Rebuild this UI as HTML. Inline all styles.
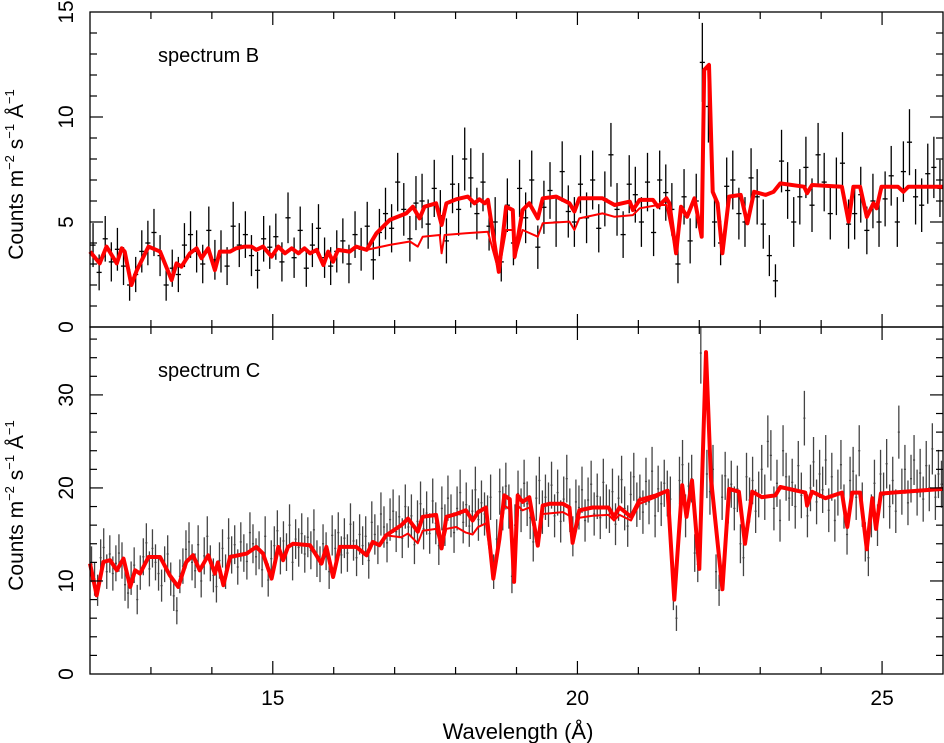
<!DOCTYPE html>
<html><head><meta charset="utf-8"><style>
html,body{margin:0;padding:0;background:#fff;}
svg{display:block;font-family:"Liberation Sans",sans-serif;}
</style></head><body>
<svg id="chart" width="944" height="743" xmlns="http://www.w3.org/2000/svg"></svg>
<script>
// ---- data ----
const topModelThickX=[12.0,12.16,12.27,12.44,12.52,12.57,12.68,12.77,12.96,13.15,13.34,13.42,13.5,13.64,13.75,13.83,13.94,14.05,14.13,14.3,14.4,14.54,14.65,14.73,14.84,14.98,15.09,15.2,15.31,15.42,15.52,15.61,15.72,15.83,15.91,15.99,16.07,16.26,16.37,16.54,16.7,16.92,17.19,17.3,17.41,17.49,17.68,17.77,17.85,18.01,18.2,18.31,18.39,18.48,18.53,18.71,18.83,18.94,18.97,19.1,19.21,19.35,19.43,19.65,19.87,19.95,20.03,20.41,20.61,20.86,20.91,21.02,21.24,21.32,21.46,21.51,21.62,21.7,21.8,21.92,22.04,22.08,22.16,22.22,22.3,22.38,22.49,22.68,22.79,22.9,23.09,23.22,23.33,23.72,23.77,23.85,24.34,24.45,24.53,24.64,24.75,24.86,24.91,24.99,25.26,25.35,25.43,26.0];
const topModelThickY=[3.59,3.03,3.83,3.03,3.75,3.59,2.0,2.71,3.83,3.59,2.24,3.03,2.87,3.51,3.75,3.27,3.75,2.71,3.59,3.59,3.75,3.83,3.83,3.67,3.83,3.35,3.83,3.51,3.75,3.51,3.75,3.51,3.67,2.95,3.59,3.11,3.67,3.59,3.83,3.67,4.46,5.1,5.41,5.73,5.17,5.73,5.89,4.86,5.89,6.08,6.21,5.89,6.08,5.89,6.05,2.63,5.73,5.57,3.35,5.57,5.89,5.17,6.13,6.21,5.89,5.5,6.13,6.13,5.81,5.97,5.57,6.05,6.05,5.73,6.13,5.89,3.51,5.73,5.25,6.13,4.3,12.24,12.48,6.44,5.89,3.51,6.21,6.29,4.94,6.44,6.29,6.44,6.84,6.68,6.37,6.76,6.68,5.02,6.68,6.68,5.25,5.89,5.65,6.68,6.68,6.44,6.68,6.68];
const topModelThinX=[16.54,16.92,17.25,17.38,17.46,17.74,17.77,17.82,18.17,18.53,18.71,18.83,18.94,18.97,19.1,19.35,19.43,19.87,19.95,20.03,20.41,20.61,20.91,21.02,21.32,21.46,21.62];
const topModelThinY=[3.67,3.91,4.07,3.83,4.3,4.38,3.51,4.38,4.46,4.54,2.63,4.62,4.62,3.27,4.62,4.3,4.94,5.02,4.62,5.17,5.41,5.25,5.33,5.65,5.81,5.81,3.51];
const botModelThickX=[12.0,12.11,12.22,12.33,12.44,12.55,12.66,12.74,12.82,12.96,13.15,13.31,13.45,13.58,13.69,13.8,13.94,14.05,14.1,14.19,14.3,14.57,14.73,14.84,14.98,15.09,15.17,15.25,15.33,15.61,15.8,15.88,15.99,16.1,16.37,16.54,16.64,16.75,16.86,17.11,17.22,17.38,17.46,17.68,17.77,17.85,18.01,18.17,18.28,18.37,18.5,18.62,18.72,18.8,18.89,18.96,19.02,19.1,19.21,19.35,19.43,19.54,19.76,19.87,19.92,20.03,20.25,20.51,20.6,20.69,20.88,21.02,21.29,21.48,21.59,21.72,21.79,21.88,22.0,22.11,22.19,22.38,22.49,22.65,22.75,22.87,23.03,23.25,23.33,23.74,23.77,23.85,24.07,24.34,24.43,24.51,24.64,24.75,24.84,24.9,24.98,26.0];
const botModelThickY=[11.87,8.46,12.05,12.23,11.15,12.4,9.36,11.15,10.79,12.58,12.58,10.61,9.36,12.05,12.76,11.15,12.76,10.79,12.0,9.54,12.58,12.94,13.66,12.94,10.25,13.66,12.23,13.66,14.0,13.84,11.87,13.66,10.43,13.66,13.66,12.76,14.2,13.84,14.9,16.0,16.7,15.3,16.9,17.1,13.5,16.9,17.2,17.6,16.5,17.4,17.9,10.25,14.5,19.2,18.8,9.9,19.2,18.5,19.0,13.8,18.1,18.3,18.3,17.9,14.1,17.6,17.9,17.9,16.9,17.9,16.9,18.7,19.2,19.7,8.0,20.3,16.9,20.8,11.3,34.6,21.1,9.1,19.9,19.6,14.0,19.6,19.0,19.2,20.1,19.5,18.1,19.6,18.9,19.5,15.8,19.5,19.5,13.4,18.9,15.6,19.4,19.9];
const botModelThinX=[16.86,17.11,17.22,17.38,17.46,17.68,17.77,17.85,18.01,18.17,18.28,18.37,18.5,18.62,18.72,18.8,18.89,18.96,19.02,19.1,19.21,19.35,19.43,19.76,19.87,19.92,20.03,20.25,20.51,20.6,20.69,20.88,21.02,21.29,21.48];
const botModelThinY=[14.9,14.7,15.1,14.05,15.4,15.6,13.5,15.6,15.8,15.2,15.0,15.8,16.2,10.25,14.5,18.1,17.7,9.9,18.1,17.6,17.9,13.8,17.2,17.4,17.0,14.1,16.8,17.0,17.1,16.5,17.1,16.5,18.3,19.0,19.7];
const topDataStart=12.05, topDataStep=0.1;
const topData=[3.9,2.6,4.2,3.1,3.7,2.9,2.0,2.5,3.6,4.0,
4.5,3.4,2.0,2.8,2.5,3.9,4.4,3.6,3.0,4.6,
3.2,3.6,2.9,4.8,3.9,4.4,3.4,2.7,4.2,3.8,
4.3,3.1,5.2,3.3,4.6,2.8,3.9,4.7,3.3,2.9,
3.6,4.1,3.0,4.4,3.7,4.8,3.2,4.5,5.4,4.7,
6.9,5.6,4.2,5.9,6.0,4.9,6.6,5.3,4.1,6.8,
5.6,8.0,7.1,5.4,6.9,4.8,5.0,3.1,5.8,4.0,
6.6,5.2,7.0,3.8,5.7,6.5,5.0,7.4,5.5,5.0,
6.8,5.2,7.0,4.7,6.1,8.2,5.6,4.4,6.8,6.3,
5.0,6.9,4.5,7.0,6.4,5.6,3.0,6.2,4.1,6.0,
12.6,10.5,5.0,4.0,6.7,7.0,5.4,5.0,7.1,6.2,
4.9,3.4,2.2,7.9,6.5,5.0,6.2,7.6,5.8,8.2,
6.9,5.4,6.7,7.8,4.9,5.4,6.3,4.6,6.0,5.0,
6.1,7.2,5.0,7.4,8.8,6.2,5.8,7.3,7.6,6.6];
const botDataStart=12.025, botDataStep=0.05;
const botData=[11.8,10.2,9.0,12.5,13.6,11.0,12.9,10.8,11.9,13.0,
12.2,9.6,8.7,10.3,11.7,8.0,10.9,12.6,14.1,11.3,
13.5,12.0,10.8,9.5,11.8,12.9,10.2,8.4,6.8,10.5,
11.6,13.4,14.2,12.0,11.1,13.9,10.0,12.7,14.8,11.9,
10.6,9.4,12.2,13.5,11.0,14.6,12.8,13.9,11.5,14.2,
13.0,12.1,15.2,14.0,12.6,13.3,11.2,14.8,10.1,12.4,
13.8,15.4,12.7,14.3,13.1,16.0,12.0,14.5,13.6,15.1,
12.9,14.7,13.3,15.5,12.4,11.8,14.0,13.2,11.0,14.9,
13.5,15.2,12.8,14.6,13.0,16.1,14.3,12.5,15.0,13.8,
14.8,12.2,16.3,15.0,13.9,17.2,15.8,14.1,16.6,17.5,
15.3,16.9,14.6,18.0,15.8,17.0,13.9,16.4,18.3,15.6,
17.3,15.1,18.6,16.2,13.8,17.8,16.0,18.9,17.0,15.2,
17.8,19.5,16.3,18.2,15.9,17.5,19.8,16.6,18.4,17.2,
16.9,19.0,11.0,14.5,19.6,17.8,20.2,18.0,10.5,16.0,
19.4,17.6,20.5,18.3,16.8,14.2,18.9,20.8,17.4,19.0,
18.2,20.3,17.0,19.5,16.4,18.8,21.0,17.6,14.8,18.5,
17.9,19.8,16.5,18.7,20.4,17.2,19.1,16.8,20.6,18.0,
17.5,19.6,16.1,18.9,20.9,17.8,15.9,19.3,21.2,18.2,
19.0,17.4,20.7,18.5,21.8,17.0,19.9,18.3,20.5,19.4,
18.8,8.5,6.0,20.8,22.5,17.0,20.2,21.0,13.0,11.8,
34.5,28.0,21.5,19.6,22.0,11.0,9.0,19.0,21.3,18.6,
20.4,17.8,19.9,14.0,12.5,21.2,18.7,20.8,17.5,19.3,
22.0,19.0,25.0,23.5,17.8,20.5,16.5,24.0,21.2,18.9,
20.6,18.0,22.4,19.2,27.5,17.0,20.0,22.8,18.5,21.5,
19.8,23.0,17.6,21.2,16.5,19.5,22.5,18.0,15.0,20.8,
21.8,19.0,24.0,18.2,14.2,12.5,17.0,20.5,16.0,21.5,
19.2,22.6,18.0,20.8,17.5,26.0,19.6,22.0,18.4,21.0,
23.0,19.5,21.6,18.8,22.4,20.0,24.2,19.0,21.5,20.4];
const xTickLabels=[15,20,25];
const topYTickLabels=[0,5,10,15];
const botYTickLabels=[0,10,20,30];

// ---- layout ----
const X0=90,X1=943,XMIN=12,XMAX=26;
const TOP={y0:12,y1:327,vmax:15};
const BOT={y0:327,y1:674,vmax:37.3};
const NS="http://www.w3.org/2000/svg";
const svg=document.getElementById('chart');
function xs(l){return X0+(l-XMIN)/(XMAX-XMIN)*(X1-X0);}
function ys(p,v){return p.y1-v/p.vmax*(p.y1-p.y0);}
function mk(tag,attrs,parent){const e=document.createElementNS(NS,tag);for(const k in attrs)e.setAttribute(k,attrs[k]);(parent||svg).appendChild(e);return e;}

function panel(p,name,dStart,dStep,data,errK,barColor,thX,thY,tnX,tnY,yTicks,minorStep,label){
  const g=mk('g',{});
  
  
  const eg=mk('g',{stroke:barColor,'stroke-width':1.3},g);
  
  
  data.forEach((v,i)=>{
    const l=dStart+i*dStep; const x=xs(l); const e=errK*Math.sqrt(v);
    const ln=mk('line',{x1:x,x2:x,y1:Math.max(p.y0,ys(p,v+e)),y2:Math.min(p.y1,ys(p,v-e))},eg);
    
    
    const hw=xs(l+dStep/2)-x-0.5;
    const hb=mk('line',{x1:x-hw,x2:x+hw,y1:ys(p,v),y2:ys(p,v)},eg);
    
    
  });
  const pts=(X,Y)=>X.map((l,i)=>xs(l).toFixed(1)+','+ys(p,Y[i]).toFixed(1)).join(' ');
  const thin=mk('polyline',{points:pts(tnX,tnY),fill:'none',stroke:'#ff0000','stroke-width':2,'stroke-linejoin':'round'},g);
  
  
  const thick=mk('polyline',{points:pts(thX,thY),fill:'none',stroke:'#ff0000','stroke-width':4,'stroke-linejoin':'round'},g);
  
  
  const fr=mk('rect',{x:X0,y:p.y0,width:X1-X0,height:p.y1-p.y0,fill:'none',stroke:'#000','stroke-width':1.3},g);
  
  
  const tg=mk('g',{stroke:'#000','stroke-width':1.2},g);
  
  
  for(let l=13;l<=25;l++){
    const len=(l%5===0)?13:7; const x=xs(l);
    mk('line',{x1:x,x2:x,y1:p.y0,y2:p.y0+len},tg);
    mk('line',{x1:x,x2:x,y1:p.y1,y2:p.y1-len},tg);
  }
  const maj=yTicks[1]-yTicks[0];
  for(let v=minorStep;v<p.vmax;v+=minorStep){
    const vv=Math.round(v*10)/10;
    const len=(Math.abs(vv/maj-Math.round(vv/maj))<1e-6)?13:7; const y=ys(p,vv);
    mk('line',{x1:X0,x2:X0+len,y1:y,y2:y},tg);
    mk('line',{x1:X1,x2:X1-len,y1:y,y2:y},tg);
  }
  yTicks.forEach(v=>{
    const y=ys(p,v);
    const t=mk('text',{x:0,y:0,'font-size':21,'text-anchor':'middle',transform:`translate(73,${y}) rotate(-90)`},g);
    t.textContent=v;
    
    
  });
  const yt=mk('text',{x:0,y:0,'font-size':21,'text-anchor':'middle',transform:`translate(23,${(p.y0+p.y1)/2+5}) rotate(-90)`},g);
  yt.innerHTML='Counts m<tspan font-size="13" dy="-9">\u22122</tspan><tspan dy="9"> s</tspan><tspan font-size="13" dy="-9">\u22121</tspan><tspan dy="9"> \u00c5</tspan><tspan font-size="13" dy="-9">\u22121</tspan>';
  
  
  const lb=mk('text',{x:158,y:p.y0+50,'font-size':20},g);
  lb.textContent=label;
  
  
}
panel(TOP,'spectrum-b',topDataStart,topDataStep,topData,0.53,'#000',topModelThickX,topModelThickY,topModelThinX,topModelThinY,topYTickLabels,1,'spectrum B');
panel(BOT,'spectrum-c',botDataStart,botDataStep,botData,0.56,'#444',botModelThickX,botModelThickY,botModelThinX,botModelThinY,botYTickLabels,2,'spectrum C');
xTickLabels.forEach(l=>{
  const t=mk('text',{x:xs(l),y:705,'font-size':21,'text-anchor':'middle'});
  t.textContent=l;
  
  
});
const xt=mk('text',{x:518,y:739,'font-size':22,'text-anchor':'middle'});
xt.textContent='Wavelength (\u00c5)';


</script>
</body></html>
